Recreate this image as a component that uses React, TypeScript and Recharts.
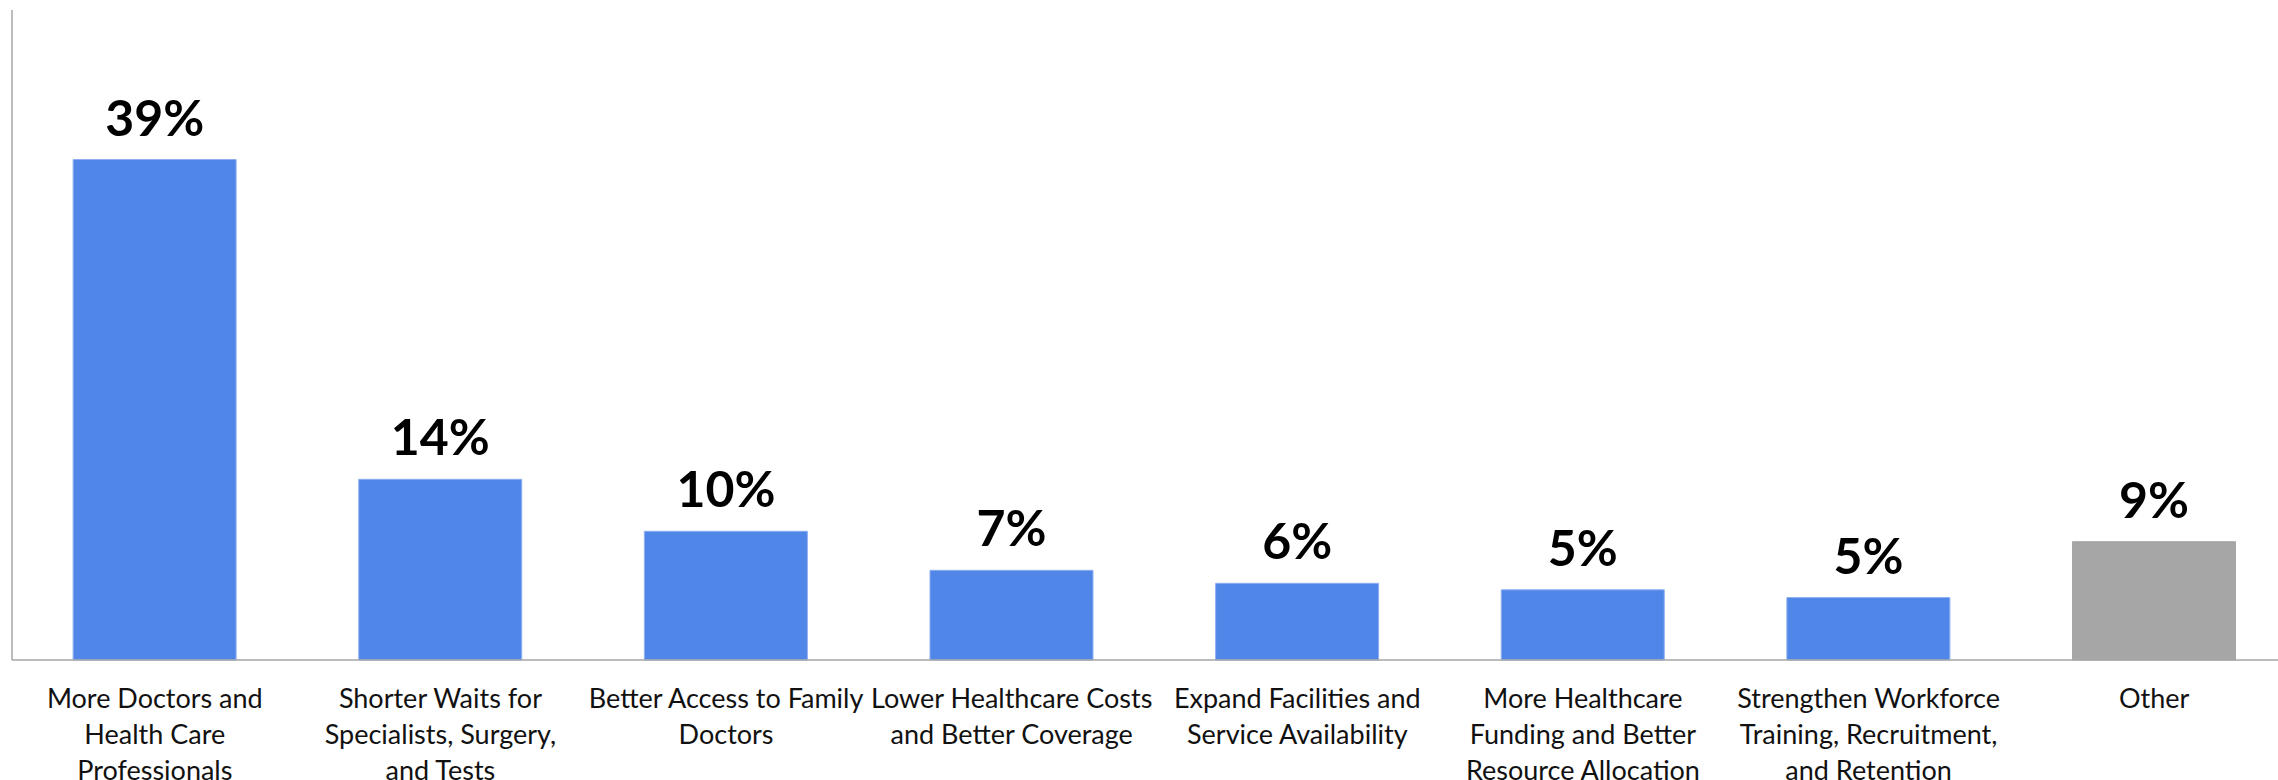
import { BarChart, Bar, XAxis, YAxis, Cell, LabelList } from 'recharts';

const categories = [
  ['More Doctors and', 'Health Care', 'Professionals'],
  ['Shorter Waits for', 'Specialists, Surgery,', 'and Tests'],
  ['Better Access to Family', 'Doctors'],
  ['Lower Healthcare Costs', 'and Better Coverage'],
  ['Expand Facilities and', 'Service Availability'],
  ['More Healthcare', 'Funding and Better', 'Resource Allocation'],
  ['Strengthen Workforce', 'Training, Recruitment,', 'and Retention'],
  ['Other'],
];
const shares = [38.5, 13.9, 9.9, 6.9, 5.9, 5.4, 4.8, 9.1];
const shareLabels = ['39%', '14%', '10%', '7%', '6%', '5%', '5%', '9%'];
const barColors = ['#4F86E8', '#4F86E8', '#4F86E8', '#4F86E8', '#4F86E8', '#4F86E8', '#4F86E8', '#A6A6A6'];

const data = shares.map((v, i) => ({ key: 'c' + i, value: v, label: shareLabels[i] }));

const FONT = 'Lato, "Open Sans", sans-serif';

function CategoryTick(props: any) {
  const { x, y, payload } = props;
  const lines = categories[payload.index] || [];
  return (
    <text x={x} y={y} textAnchor="middle" fontFamily={FONT} fontSize={27} fill="#111">
      {lines.map((l, i) => (
        <tspan key={i} x={x} dy={i === 0 ? 48 : 36}>{l}</tspan>
      ))}
    </text>
  );
}

export default function App() {
  return (
    <div style={{ position: 'fixed', left: 0, top: 0, width: 2278, height: 780, overflow: 'hidden', background: '#fff' }}>
      <BarChart
        width={2320}
        height={780}
        data={data}
        margin={{ top: 10, right: 23, left: 11, bottom: 0 }}
        barCategoryGap="21.4%"
      >
        <XAxis
          dataKey="key"
          height={120}
          interval={0}
          tickLine={false}
          tickSize={0}
          tickMargin={0}
          axisLine={{ stroke: '#A6A6A6', strokeWidth: 1.5 }}
          tick={<CategoryTick />}
        />
        <YAxis
          width={1}
          domain={[0, 50]}
          tick={false}
          tickLine={false}
          axisLine={{ stroke: '#A6A6A6', strokeWidth: 1.5 }}
        />
        <Bar dataKey="value" isAnimationActive={false} stroke="#8FB0F0" strokeWidth={1}>
          {data.map((d, i) => (
            <Cell key={d.key} fill={barColors[i]} stroke={i === 7 ? '#A6A6A6' : '#8FB0F0'} />
          ))}
          <LabelList
            dataKey="label"
            position="top"
            offset={24}
            fill="#000"
            fontFamily={FONT}
            fontWeight={700}
            fontSize={50}
          />
        </Bar>
      </BarChart>
    </div>
  );
}
